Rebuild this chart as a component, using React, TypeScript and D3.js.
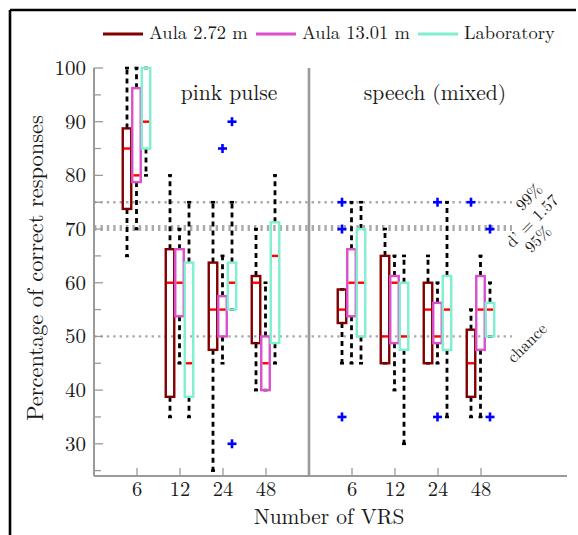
import React from "react";
import * as d3 from "d3";

// ---- data ----
const categories = ["6", "12", "24", "48"];
const panels = ["pink pulse", "speech (mixed)"];
const seriesNames = ["Aula 2.72 m", "Aula 13.01 m", "Laboratory"];
const seriesColors = ["#800000", "#d94fcc", "#7fefd0"];

// [lowWhisker, q1, median, q3, highWhisker] for pink 6,12,24,48 then speech 6,12,24,48
const aula272 = [
  [65, 73.75, 85, 88.75, 100],
  [35, 38.75, 60, 66.25, 80],
  [25, 47.5, 55, 63.75, 75],
  [40, 48.75, 60, 61.25, 70],
  [45, 52.5, 55, 58.75, 58.75],
  [45, 45, 50, 65, 70],
  [45, 45, 55, 60, 65],
  [35, 38.75, 45, 51.25, 55],
];
const aula1301 = [
  [70, 78.75, 80, 96.25, 100],
  [45, 53.75, 60, 66.25, 70],
  [45, 50, 55, 57.5, 65],
  [40, 40, 45, 50, 60],
  [45, 53.75, 60, 66.25, 75],
  [40, 48.75, 60, 61.25, 65],
  [45, 48.75, 50, 56.25, 60],
  [35, 47.5, 55, 61.25, 65],
];
const laboratory = [
  [80, 85, 90, 100, 100],
  [35, 38.75, 45, 63.75, 75],
  [55, 55, 60, 63.75, 75],
  [45, 48.75, 65, 71.25, 80],
  [45, 50, 60, 70, 75],
  [30, 47.5, 50, 60, 65],
  [35, 47.5, 55, 61.25, 75],
  [50, 50, 55, 56.25, 60],
];
const outliers272 = [[], [], [], [], [75, 70, 35], [], [], [75]];
const outliers1301 = [[], [], [85], [], [], [], [75, 35], []];
const outliersLab = [[], [], [90, 30], [], [], [], [], [70, 35]];

const yMajorTicks = [30, 40, 50, 60, 70, 80, 90, 100];
const yMinorTicks = [25, 35, 45, 55, 65, 75, 85, 95];
const refLines = [
  { value: 75, label: "99%" },
  { value: 70.2, label: "95%" },
  { value: 50, label: "chance" },
];

const allSeries = [aula272, aula1301, laboratory];
const allOutliers = [outliers272, outliers1301, outliersLab];

// ---- layout ----
const W = 578;
const H = 535;
const X0 = 94;
const X1 = 567;
const Y0 = 476;
const Y1 = 68;
const FONT = '"Latin Modern Roman"';

const x = d3.scaleLinear().domain([0, 11]).range([X0, X1]);
const y = d3.scaleLinear().domain([24, 100]).range([Y0, Y1]);
const groupPos = [1, 2, 3, 4, 6, 7, 8, 9];
const offsets = [-10, -0.5, 9];
const boxW = 8.5;

const T = (props: any) => (
  <text fill="#1a1a1a" {...props} style={{ fontFamily: FONT }} />
);

export default function App() {
  const gray = "#9a9a9a";
  const dotted = "#aaaaaa";
  const lineEnd = 512;

  const boxes: React.ReactNode[] = [];
  allSeries.forEach((ser, si) => {
    ser.forEach((s, gi) => {
      const cx = x(groupPos[gi]) + offsets[si];
      const [lo, q1, med, q3, hi] = s;
      const col = seriesColors[si];
      boxes.push(
        <g key={`b${si}-${gi}`}>
          {hi > q3 && (
            <line x1={cx} x2={cx} y1={y(q3)} y2={y(hi)} stroke="#000" strokeWidth={2.8} strokeDasharray="5 4" />
          )}
          {lo < q1 && (
            <line x1={cx} x2={cx} y1={y(q1)} y2={y(lo)} stroke="#000" strokeWidth={2.8} strokeDasharray="5 4" />
          )}
          <line x1={cx - 2} x2={cx + 2} y1={y(hi)} y2={y(hi)} stroke="#000" strokeWidth={2.6} />
          <line x1={cx - 2} x2={cx + 2} y1={y(lo)} y2={y(lo)} stroke="#000" strokeWidth={2.6} />
          <rect x={cx - boxW / 2} y={y(q3)} width={boxW} height={y(q1) - y(q3)} fill="none" stroke={col} strokeWidth={2.4} />
          <line x1={cx - boxW / 2 + 1.2} x2={cx + boxW / 2 - 1.2} y1={y(med)} y2={y(med)} stroke="#ff0000" strokeWidth={2.4} />
        </g>
      );
    });
  });

  const crosses: React.ReactNode[] = [];
  allOutliers.forEach((ser, si) => {
    ser.forEach((vals, gi) => {
      const cx = x(groupPos[gi]) + offsets[si];
      vals.forEach((v, k) => {
        const cy = y(v);
        crosses.push(
          <g key={`o${si}-${gi}-${k}`} stroke="#0000ff" strokeWidth={2.6}>
            <line x1={cx - 4.5} x2={cx + 4.5} y1={cy} y2={cy} />
            <line x1={cx} x2={cx} y1={cy - 4.5} y2={cy + 4.5} />
          </g>
        );
      });
    });
  });

  const legendX = [103, 256, 418];

  return (
    <svg width={W} height={H} style={{ position: "absolute", left: 0, top: 0 }}>
      <rect x={0} y={0} width={W} height={H} fill="#fff" />
      {/* frame */}
      <line x1={10} x2={576} y1={10} y2={10} stroke="#000" strokeWidth={2.6} />
      <line x1={10} x2={10} y1={10} y2={H} stroke="#000" strokeWidth={2.6} />

      {/* legend */}
      {seriesNames.map((n, i) => (
        <g key={n}>
          <line x1={legendX[i]} x2={legendX[i] + 40} y1={34} y2={34} stroke={seriesColors[i]} strokeWidth={3} />
          <T x={legendX[i] + 46} y={39} fontSize={18.5}>
            {n}
          </T>
        </g>
      ))}

      {/* reference lines */}
      <line x1={X0} x2={lineEnd} y1={y(75)} y2={y(75)} stroke={dotted} strokeWidth={2.4} strokeDasharray="2.4 4" />
      <line x1={X0} x2={lineEnd} y1={y(70.2)} y2={y(70.2)} stroke={dotted} strokeWidth={6} strokeDasharray="2.4 4" />
      <line x1={X0} x2={lineEnd} y1={y(50)} y2={y(50)} stroke={dotted} strokeWidth={2.4} strokeDasharray="2.4 4" />

      {/* axes */}
      <line x1={X0} x2={X0} y1={Y1} y2={Y0} stroke={gray} strokeWidth={2} />
      <line x1={X0} x2={X1} y1={Y0} y2={Y0} stroke={gray} strokeWidth={2} />
      <line x1={x(5)} x2={x(5)} y1={Y1} y2={Y0} stroke={gray} strokeWidth={2.6} />
      {yMajorTicks.map((t) => (
        <g key={`ym${t}`}>
          <line x1={X0} x2={X0 + 9} y1={y(t)} y2={y(t)} stroke={gray} strokeWidth={1.3} />
          <T x={86} y={y(t)} dy="0.33em" textAnchor="end" fontSize={21}>
            {t}
          </T>
        </g>
      ))}
      {yMinorTicks.map((t) => (
        <line key={`yn${t}`} x1={X0} x2={X0 + 7} y1={y(t)} y2={y(t)} stroke={gray} strokeWidth={1.3} />
      ))}
      {groupPos.map((g, i) => (
        <g key={`xt${i}`}>
          <line x1={x(g)} x2={x(g)} y1={Y0} y2={Y0 - 8} stroke={gray} strokeWidth={1.3} />
          <T x={x(g)} y={496} textAnchor="middle" fontSize={20.5}>
            {categories[i % 4]}
          </T>
        </g>
      ))}

      {/* axis labels */}
      <T x={329} y={524} textAnchor="middle" fontSize={21.4}>
        Number of VRS
      </T>
      <T transform="translate(43,268) rotate(-90)" textAnchor="middle" fontSize={22.4}>
        Percentage of correct responses
      </T>

      {/* panel titles */}
      <T x={229} y={100} textAnchor="middle" fontSize={21.6}>
        {panels[0]}
      </T>
      <T x={435} y={100} textAnchor="middle" fontSize={21.6}>
        {panels[1]}
      </T>

      {/* reference labels */}
      <T transform="translate(529,197) rotate(-45)" textAnchor="middle" dy="0.33em" fontSize={16.5}>
        {refLines[0].label}
      </T>
      <T transform="translate(532,221) rotate(-45)" textAnchor="middle" dy="0.33em" fontSize={16.5}>
        d’ = 1.57
      </T>
      <T transform="translate(538,239) rotate(-45)" textAnchor="middle" dy="0.33em" fontSize={16.5}>
        {refLines[1].label}
      </T>
      <T transform="translate(527,343) rotate(-45)" textAnchor="middle" dy="0.33em" fontSize={16.5}>
        {refLines[2].label}
      </T>

      {boxes}
      {crosses}
    </svg>
  );
}
